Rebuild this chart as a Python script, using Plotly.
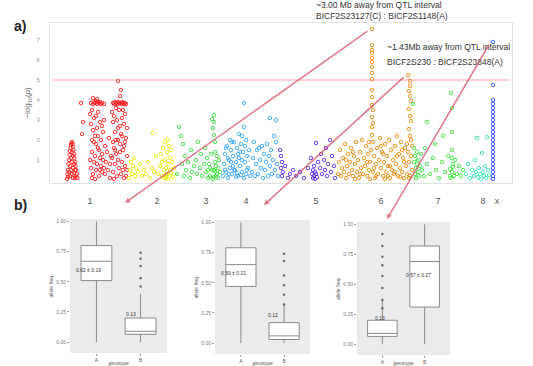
import plotly.graph_objects as go

W, H = 533, 366

# ---------------- Manhattan data: (cumulative position, -log10 p) ----------------
CHR_LABELS = ["1", "2", "3", "4", "5", "6", "7", "8", "x"]
CHR_TICKPOS = [40, 107, 156, 196, 266, 331, 388, 433, 447]
CHR_COLORS = ["#ff2020", "#e3ec10", "#40e040", "#3aa8ff", "#5a2df0",
              "#f08a10", "#3ee83e", "#3de3b5", "#2a4dff"]

chr1 = [(17,0.05),(17.5,0.3),(18,0.5),(18,0.15),(18.5,0.8),(19,1.0),(19,0.4),(19.5,1.25),(20,1.45),(20,0.7),
        (20,0.2),(20.5,1.6),(21,1.75),(21,1.1),(21,0.5),(21.5,1.85),(22,1.9),(22,1.4),(22,0.9),(22,0.3),
        (22.5,1.8),(23,1.65),(23,1.2),(23,0.6),(23,0.1),(23.5,1.5),(24,1.3),(24,0.8),(24,0.35),(24.5,1.1),
        (25,0.9),(25,0.5),(25,0.1),(25.5,0.7),(26,0.5),(26,0.2),(27,0.3),(27.5,0.1),
        (41,3.85),(43,3.8),(44,3.9),(45,3.85),(46,3.95),(47,3.8),(48,3.9),(49,3.85),(50,3.9),(51,3.8),
        (52,3.85),(54,3.8),(63,3.85),(64,3.8),(65,3.9),(66,3.85),(67,3.8),(68,3.9),(69,3.85),(70,3.85),
        (71,3.8),(72,3.9),(73,3.85),(74,3.8),(75,3.85),(76,3.8),
        (68,4.95),(71,4.5),(70,4.2),(31,3.85),(33,2.9),(32,2.3),(43,4.1),(47,4.05),
        (40,3.3),(41,2.8),(42,3.5),(43,2.5),(44,3.1),(45,2.2),(46,1.8),(47,2.6),(48,3.4),(49,1.5),
        (50,2.9),(51,2.0),(52,1.3),(53,2.4),(54,3.0),(55,1.7),(40,1.0),(41,0.6),(42,1.4),(43,0.3),
        (44,0.9),(45,1.2),(46,0.5),(47,0.8),(48,1.6),(49,0.2),(50,1.1),(51,0.7),(52,0.4),(53,1.0),
        (54,0.6),(55,0.3),(42,2.0),(44,1.9),(48,2.2),(50,0.5),(46,3.2),(52,2.7),(56,0.9),(57,1.4),
        (58,0.5),(59,2.1),(60,0.8),(61,1.2),
        (62,3.4),(63,2.9),(64,3.2),(65,2.4),(66,2.0),(67,3.0),(68,2.6),(69,3.5),(70,1.8),(71,2.3),
        (72,3.1),(73,1.5),(74,2.8),(75,3.3),(76,2.1),(77,1.2),(62,1.1),(63,0.4),(64,1.6),(65,0.8),
        (66,1.3),(67,0.2),(68,1.0),(69,0.6),(70,1.4),(71,0.3),(72,0.9),(73,0.5),(74,1.7),(75,0.7),
        (76,0.2),(77,0.5),(68,2.0),(70,2.7),(72,2.2),(74,0.1),(66,3.6),(73,3.5),(77,2.6),(75,1.9),
        (63,1.9),(65,1.5),(42,0.1),(45,0.05),(60,0.1),(64,0.05)]
chr2 = [(79,0.1),(80,0.5),(81,0.9),(82,0.3),(83,0.7),(84,1.1),(85,0.2),(86,0.6),(88,0.4),(90,0.8),
        (92,0.2),(94,0.5),(96,0.3),(98,0.9),(100,0.1),(102,0.6),(103,2.35),(104,0.4),(106,1.2),(108,0.3),
        (110,0.7),(111,1.3),(112,0.2),(113,1.6),(114,0.5),(115,1.0),(115,1.9),(116,0.1),(116,0.6),(117,0.3),
        (117,1.4),(118,0.8),(118,2.0),(119,0.2),(120,1.1),(120,0.5),(121,0.35),(122,0.9),(123,0.15),(124,0.6),
        (119,1.7),(114,0.1),(112,0.9),(121,1.5),(118,0.05),(116,0.3)]
chr3 = [(127,0.3),(129,2.65),(131,2.2),(132,0.8),(133,1.8),(134,0.2),(135,1.2),(136,0.5),(138,0.9),(140,0.1),
        (141,1.5),(142,0.4),(144,0.7),(146,1.0),(147,0.3),(148,1.9),(150,0.6),(151,1.3),(152,0.2),(154,0.8),
        (155,1.6),(156,0.4),(157,1.1),(158,0.1),(163,2.6),(164,3.25),(164,2.9),(164,2.25),(165,1.9),(165,1.4),
        (165,0.9),(164,0.5),(166,0.2),(166,0.7),(167,1.2),(167,0.3),(168,0.6),(168,0.1),(169,1.0),(170,0.4),
        (159,0.8),(160,0.2),(161,1.3),(162,0.5),(163,0.05),(164,0.15),(165,0.45),(162,3.05),(160,0.6),(158,0.5)]
chr4 = [(173,0.2),(174,0.8),(175,1.3),(176,0.4),(177,1.7),(178,0.1),(179,1.0),(180,2.0),(180,0.6),(181,1.5),
        (182,0.3),(183,1.2),(184,1.9),(185,0.5),(186,0.9),(187,1.6),(188,0.2),(189,2.3),(189,1.1),(190,0.7),
        (191,1.8),(192,0.4),(192,2.2),(193,1.4),(194,3.85),(194,2.65),(194,0.1),(195,1.7),(195,0.9),(196,0.3),
        (196,2.0),(197,1.2),(198,0.6),(199,1.5),(200,0.2),(176,1.6),(178,1.1),(182,1.9),(186,0.15),(190,1.4),
        (184,0.5),(188,1.3),(192,1.0),(175,0.5),(179,0.3),(183,0.7),(187,0.35),(191,0.25),(197,0.5),(181,0.9),
        (202,0.4),(203,1.1),(205,0.2),(206,0.8),(207,1.5),(208,0.3),(210,1.0),(211,0.6),(212,1.7),(213,0.1),
        (214,1.3),(215,0.5),(216,0.9),(217,1.8),(218,0.2),(219,1.2),(220,3.1),(220,0.7),(221,1.5),(222,0.3),
        (223,1.0),(224,2.2),(225,0.5),(226,3.0),(226,1.9),(227,0.8),(228,0.2),(209,1.6),(204,1.9)]
chr5 = [(230,1.5),(231,1.2),(231,0.6),(232,0.9),(232,0.2),(233,0.4),(235,0.7),(238,0.1),(240,0.3),(243,0.5),
        (246,0.2),(250,0.4),(254,0.1),(258,0.6),(261,1.1),(262,0.3),(263,0.1),(263,0.5),(264,0.2),(264,0.7),
        (265,0.4),(265,0.05),(266,0.3),(266,1.85),(267,0.15),(268,0.9),(270,0.6),(271,1.3),(272,0.3),(274,1.0),
        (275,0.5),(276,1.6),(277,0.2),(278,0.8),(280,2.0),(281,0.4),(282,1.2),(284,0.7),(285,0.1)]
chr6 = [(322,7.55),(322,6.75),(322,6.5),(322,6.35),(322,6.1),(322,5.9),(322,5.65),(322,5.35),(322,5.05),(322,4.5),
        (322,4.15),(322,3.75),(323,3.5),(322,3.15),(323,2.85),(322,2.65),(322,2.25),(323,1.9),
        (358,5.25),(360,4.95),(360,4.7),(359,4.45),(360,4.2),(361,3.95),(359,3.55),(360,3.2),(361,2.95),(359,2.55),
        (360,2.2),(361,2.0),(357,1.8),
        (288,0.3),(289,0.9),(290,1.5),(291,0.2),(292,0.6),(293,1.1),(294,0.4),(295,1.8),(296,0.1),(297,0.7),
        (298,1.3),(299,0.3),(300,0.9),(301,1.6),(302,0.5),(303,0.2),(304,1.2),(305,0.8),(306,1.9),(307,0.4),
        (308,1.0),(309,0.1),(310,1.4),(311,0.6),(312,2.0),(313,0.3),(314,1.1),(315,0.7),(316,1.7),(317,0.2),
        (318,1.3),(319,0.5),(320,0.9),(321,1.5),(323,0.4),(324,1.2),(325,0.1),(326,0.8),(327,1.6),(328,0.3),
        (329,1.0),(330,2.1),(331,0.6),(332,1.4),(333,0.2),(334,0.9),(335,1.8),(336,0.4),(337,1.2),(338,0.7),
        (339,2.0),(340,0.1),(341,1.5),(342,0.5),(343,1.0),(344,0.3),(345,1.7),(346,0.8),(347,2.2),(348,0.2),
        (349,1.3),(350,0.6),(351,1.9),(352,0.4),(353,1.1),(354,0.1),(355,1.6),(356,0.7),(357,0.3),(358,1.4),
        (359,0.9),(360,0.2),(361,1.2),(362,0.5),(362,1.7),(319,1.9),(326,0.2),(333,1.3),(340,0.7),(347,1.2),
        (354,0.9),(296,1.0),(303,1.4),(310,0.3),(317,0.9),(324,0.6),(331,1.7),(338,0.2),(345,0.4),(352,1.5),
        (359,0.1),(320,0.05),(335,0.05),(350,0.15),(305,0.05)]
chr7 = [(363,3.8),(364,1.6),(364,0.9),(365,0.3),(365,1.2),(366,0.6),(366,0.1),(367,1.4),(367,0.8),(368,0.4),
        (368,1.0),(369,0.2),(370,0.7),(371,1.3),(372,0.5),(374,0.2),(377,2.9),(377,0.8),(380,0.3),(383,1.1),
        (386,0.5),(389,0.1),(392,0.9),(395,0.4),(398,1.2),(400,0.2),(401,4.35),(402,3.6),(402,2.4),(402,1.5),
        (402,1.1),(403,0.8),(403,0.65),(402,0.4),(404,0.2),(401,0.1),(400,0.55),(405,1.0),(407,0.3),(409,0.7),
        (411,0.2),(413,0.5),(385,1.8),(393,2.2),(375,1.6)]
chr8 = [(416,0.3),(418,0.8),(420,0.1),(422,0.5),(424,0.2),(425,1.0),(426,0.4),(427,2.1),(428,0.15),(429,0.6),
        (430,0.3),(431,0.05),(432,1.35),(433,0.4),(434,0.2),(435,0.7),(436,0.1),(437,2.15),(438,0.5),(439,0.25)]
chr9 = [(443,6.9),(443,4.75),(443,4.0),(443,3.8),(443,3.6),(443,3.4),(443,3.2),(443,3.0),(443,2.8),(443,2.6),
        (443,2.4),(443,2.2),(443,2.0),(443,1.8),(443,1.6),(443,1.4),(443,1.2),(443,1.0),(443,0.8),(443,0.6),
        (443,0.4),(443,0.2),(443,0.05)]
CHROMS = [chr1, chr2, chr3, chr4, chr5, chr6, chr7, chr8, chr9]

THRESHOLD = 5.0
Y_TICKS = [1, 2, 3, 4, 5, 6, 7]

# ---------------- Box-plot summaries (genotype groups) ----------------
BOX_GROUPS = ["A", "B"]
# each panel: [q1, median, q3, lowerfence, upperfence] for the two groups
panel1_stats = [[0.51, 0.67, 0.80, 0.0, 1.0], [0.065, 0.09, 0.20, 0.0, 0.40]]
panel2_stats = [[0.47, 0.65, 0.79, 0.0, 1.0], [0.03, 0.06, 0.17, 0.0, 0.33]]
panel3_stats = [[0.065, 0.09, 0.20, 0.0, 0.38], [0.31, 0.69, 0.82, 0.0, 1.0]]
panel1_out = [[], [0.74, 0.69, 0.63, 0.53, 0.46]]
panel2_out = [[], [0.74, 0.68, 0.56, 0.48, 0.40, 0.32]]
panel3_out = [[0.92, 0.82, 0.73, 0.66, 0.57, 0.47, 0.37, 0.30], []]
panel_labels = [["0.62 ± 0.19", "0.13"], ["0.59 ± 0.21", "0.12"], ["0.13", "0.57 ± 0.27"]]
BOX_TICKS = [0, 0.25, 0.5, 0.75, 1.0]
BOX_TICKTEXT = ["0.00", "0.25", "0.50", "0.75", "1.00"]

fig = go.Figure()

def fx(p):
    return p / W

def fy(p):
    return 1 - p / H

# Manhattan traces
for pts, col, name in zip(CHROMS, CHR_COLORS, CHR_LABELS):
    fig.add_trace(go.Scatter(
        x=[p[0] for p in pts], y=[p[1] for p in pts], mode="markers",
        marker=dict(symbol="circle-open", size=3.5, color=col, line=dict(width=0.9, color=col)),
        xaxis="x", yaxis="y", showlegend=False, name=name, cliponaxis=False))

# Box panels
panels = [(panel1_stats, panel1_out, "2"), (panel2_stats, panel2_out, "3"), (panel3_stats, panel3_out, "4")]
for stats, outs, k in panels:
    for i, (s, o) in enumerate(zip(stats, outs)):
        fig.add_trace(go.Box(
            x=[i + 1], q1=[s[0]], median=[s[1]], q3=[s[2]], lowerfence=[s[3]], upperfence=[s[4]],
            width=0.7, fillcolor="white", line=dict(color="#8a8a8a", width=1),
            boxpoints=False, xaxis="x" + k, yaxis="y" + k, showlegend=False, whiskerwidth=0))
        if o:
            fig.add_trace(go.Scatter(
                x=[i + 1] * len(o), y=o, mode="markers",
                marker=dict(size=2.5, color="#666666"),
                xaxis="x" + k, yaxis="y" + k, showlegend=False))

layout = dict(
    width=W, height=H, margin=dict(l=0, r=0, t=0, b=0, autoexpand=False),
    paper_bgcolor="white", plot_bgcolor="white",
    font=dict(family="Liberation Sans, Arial", color="#444"),
    xaxis=dict(domain=[fx(50), fx(512)], range=[0, 462], anchor="y", automargin=False,
               tickvals=CHR_TICKPOS, ticktext=CHR_LABELS, ticks="outside", ticklen=9,
               tickcolor="rgba(0,0,0,0)", tickfont=dict(size=9, color="#555"),
               showgrid=False, zeroline=False, showline=True, mirror=True, linecolor="#e2e2e2"),
    yaxis=dict(domain=[fy(183), fy(23)], range=[-0.15, 7.85], anchor="x", automargin=False,
               tickvals=Y_TICKS, tickformat=".0f", ticks="outside", ticklen=8,
               tickcolor="rgba(0,0,0,0)", tickfont=dict(size=6, color="#999"),
               showgrid=False, zeroline=False, showline=True, mirror=True, linecolor="#e2e2e2",
               title=dict(text="\u2212log<sub>10</sub>(<i>p</i>)", font=dict(size=8, color="#666"), standoff=4)),
)

box_domains = [((70, 167), (219, 353)), ((215, 310), (220, 354)), ((357, 450), (222, 355))]
for (xd, yd), k in zip(box_domains, ["2", "3", "4"]):
    layout["xaxis" + k] = dict(domain=[fx(xd[0]), fx(xd[1])], range=[0.4, 2.6], anchor="y" + k,
                               automargin=False,
                               tickvals=[1, 2], ticktext=BOX_GROUPS, ticks="outside", ticklen=2,
                               tickcolor="#999", tickfont=dict(size=5, color="#666"),
                               showgrid=False, zeroline=False,
                               title=dict(text="genotype", font=dict(size=5, color="#555"), standoff=0))
    layout["yaxis" + k] = dict(domain=[fy(yd[1]), fy(yd[0])], range=[-0.09, 1.02], anchor="x" + k,
                               automargin=False,
                               tickvals=BOX_TICKS, ticktext=BOX_TICKTEXT, ticks="outside", ticklen=2,
                               tickcolor="#999", tickfont=dict(size=5, color="#777"),
                               showgrid=False, zeroline=False,
                               title=dict(text="allele freq.", font=dict(size=5, color="#555"), standoff=2))

fig.update_layout(**layout)

shapes = [dict(type="line", xref="x domain", yref="y", x0=0.005, x1=0.995, y0=THRESHOLD, y1=THRESHOLD,
               line=dict(color="rgba(255,120,120,0.45)", width=1.5))]
for k in ["2", "3", "4"]:
    shapes.append(dict(type="rect", xref="x%s domain" % k, yref="y%s domain" % k, x0=0, x1=1, y0=0, y1=1,
                       fillcolor="#ebebeb", line=dict(width=0), layer="below"))
fig.update_layout(shapes=shapes)

ann = []
ann.append(dict(text="<b>a)</b>", xref="paper", yref="paper", x=fx(12), y=fy(26), xanchor="left",
                yanchor="middle", showarrow=False, font=dict(size=14, color="#222")))
ann.append(dict(text="<b>b)</b>", xref="paper", yref="paper", x=fx(12), y=fy(205), xanchor="left",
                yanchor="middle", showarrow=False, font=dict(size=14, color="#222")))
qtl_text = [("~3.00 Mb away from QTL interval", 314, 5), ("BICF2S23127(C) : BICF2S1148(A)", 314, 16),
            ("~1.43Mb away from QTL interval", 385, 47), ("BICF2S230 : BICF2S23848(A)", 385, 62)]
for t, x, y in qtl_text:
    ann.append(dict(text=t, xref="paper", yref="paper", x=fx(x), y=fy(y), xanchor="left", yanchor="middle",
                    showarrow=False, font=dict(size=8.5, color="#333")))

# connectors from peaks to box panels
peak1 = max(chr6, key=lambda p: p[1])
peak2 = max([p for p in chr6 if p[0] > 340], key=lambda p: p[1])
peak3 = max(chr9, key=lambda p: p[1])
heads = [(75, -1.15), (214, -1.25), (337, -1.95)]
for (hx, hy), pk in zip(heads, [peak1, peak2, peak3]):
    ann.append(dict(text="", x=hx, y=hy, xref="x", yref="y", ax=pk[0] - 3, ay=pk[1] - 0.05,
                    axref="x", ayref="y", showarrow=True, arrowhead=2, arrowsize=0.7, arrowwidth=1.5,
                    arrowcolor="rgba(215,80,100,0.75)"))

# small labels inside box panels
label_pos = [[(0.82, 0.60), (1.78, 0.23)], [(0.82, 0.58), (1.75, 0.23)], [(0.95, 0.22), (1.85, 0.58)]]
for (labs, poss), k in zip(zip(panel_labels, label_pos), ["2", "3", "4"]):
    for t, (x, y) in zip(labs, poss):
        ann.append(dict(text=t, x=x, y=y, xref="x" + k, yref="y" + k, showarrow=False,
                        font=dict(size=5, color="#333")))
fig.update_layout(annotations=ann)

fig.write_html("out.html", config={"displayModeBar": False},
               post_script="document.body.style.margin='0';document.body.style.padding='0';"
                           "document.documentElement.style.overflow='hidden';")
